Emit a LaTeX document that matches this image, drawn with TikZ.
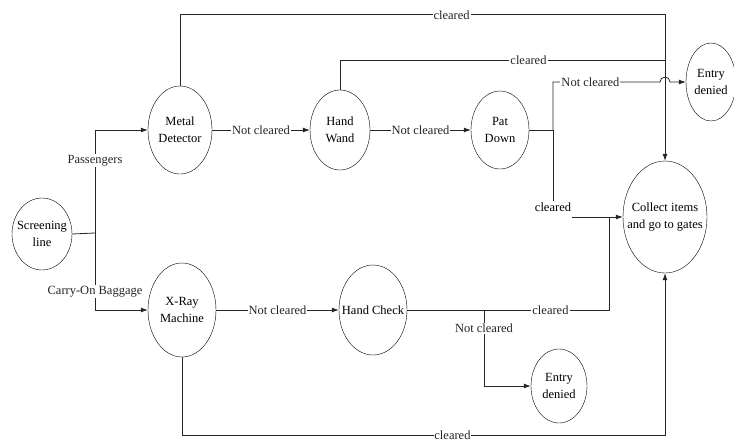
\documentclass[tikz,border=0pt]{standalone}
\usepackage{fontspec}
\setmainfont{Liberation Serif}
\usetikzlibrary{shapes.geometric,arrows.meta}

\tikzset{
    state/.style={draw,ellipse,align=center,inner xsep=-20pt,inner ysep=0pt,
        font=\fontsize{12.5}{17}\selectfont},
    lbl/.style={fill=white,inner sep=1pt,font=\fontsize{12.5}{15}\selectfont},
    flow/.style={line width=0.8pt,black!85}
}

\begin{document}
\begin{tikzpicture}[x=1pt,y=-1pt,>={Latex[length=7pt,width=5pt]}]
    \useasboundingbox (0,0) rectangle (734,442);
    % states
    \node[state,minimum width=60,minimum height=72] (screen) at (42,234) {Screening\\line};
    \node[state,minimum width=64,minimum height=88] (md) at (180,130) {Metal\\Detector};
    \node[state,minimum width=60,minimum height=80] (hw) at (340,130) {Hand\\Wand};
    \node[state,minimum width=58,minimum height=78] (pd) at (500,130) {Pat\\Down};
    \node[state,minimum width=50,minimum height=78] (ed1) at (711,82) {Entry\\denied};
    \node[state,minimum width=84,minimum height=112] (collect) at (665,217) {Collect items\\and go to gates};
    \node[state,minimum width=68,minimum height=94] (xray) at (182,310) {X-Ray\\Machine};
    \node[state,minimum width=68,minimum height=90] (hc) at (373,310) {Hand Check};
    \node[state,minimum width=56,minimum height=74] (ed2) at (559,386) {Entry\\denied};
    % junctions
    \coordinate (split) at (95,233);
    \coordinate (pdsplit) at (553,130);
    \coordinate (join) at (665,60);
    \coordinate (hcin) at (609,217);
    \coordinate (hcsplit) at (484,310);
    % screening line
    \draw[flow] (screen.east) -- (split);
    \draw[flow,->] (split) |- node[lbl,pos=0.35] {Passengers} (md.west);
    \draw[flow,->] (split) |- node[lbl,pos=0.38] {Carry-On Baggage} (xray.west);
    % passengers
    \draw[flow,->] (md.east) -- node[lbl] {Not cleared} (hw.west);
    \draw[flow,->] (hw.east) -- node[lbl] {Not cleared} (pd.west);
    \draw[flow,->] (md.north) -- ++(0,-71) -| node[lbl,pos=0.28] {cleared} (collect.north);
    \draw[flow] (hw.north) |- node[lbl,pos=0.79] {cleared} (join);
    \draw[flow] (pd.east) -- (pdsplit);
    \draw[flow,->] (pdsplit) -- (553,82) -- node[lbl,pos=0.35] {Not cleared} (660,82)
        arc[start angle=180,end angle=360,radius=5] -- (ed1.west);
    \node[lbl] (clr) at (553,207) {cleared};
    \draw[flow] (pdsplit) -- (clr.north);
    \draw[flow,->] (clr.east |- hcin) -- (collect.west);
    % baggage
    \draw[flow,->] (xray.east) -- node[lbl] {Not cleared} (hc.west);
    \draw[flow] (hc.east) -- node[lbl,pos=0.71] {cleared} (hcin |- hc.east) -- (hcin);
    \draw[flow,->] (hcsplit) |- node[lbl,pos=0.12] {Not cleared} (ed2.west);
    \draw[flow,->] (xray.south) -- ++(0,78) -| node[lbl,pos=0.28,inner sep=0.5pt] {cleared} (collect.south);
\end{tikzpicture}
\end{document}
